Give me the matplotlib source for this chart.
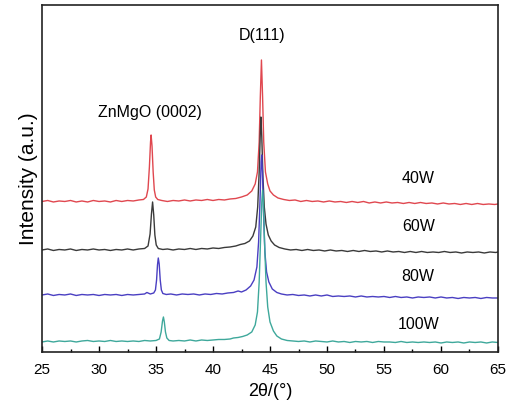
import matplotlib
matplotlib.use("Agg")
import matplotlib.pyplot as plt
from matplotlib.ticker import MultipleLocator

plt.rcParams['font.family'] = ['Liberation Sans', 'DejaVu Sans']

# ---------------- data (2theta in degrees, intensity in a.u., offset stacked) ----------------
x_40W = [25.0, 25.5, 26.0, 26.5, 27.0, 27.5, 28.0, 28.5, 29.0, 29.5, 30.0, 30.5, 31.0, 31.5, 32.0, 32.5,
         33.0, 33.5, 33.9, 34.15, 34.3, 34.42, 34.52, 34.57, 34.65, 34.75, 34.85, 34.97, 35.15, 35.5,
         36.0, 36.5, 37.0, 37.5, 38.0, 38.5, 39.0, 39.5, 40.0, 40.5, 41.0, 41.5, 42.0, 42.5, 43.0, 43.4,
         43.7, 43.9, 44.05, 44.15, 44.25, 44.35, 44.45, 44.6, 44.8, 45.0, 45.3, 45.7, 46.2, 46.7, 47.2,
         47.7, 48.2, 48.7, 49.2, 49.7, 50.2, 50.7, 51.2, 51.7, 52.2, 52.7, 53.2, 53.7, 54.2, 54.7, 55.2,
         55.7, 56.2, 56.7, 57.2, 57.7, 58.2, 58.7, 59.2, 59.7, 60.2, 60.7, 61.2, 61.7, 62.2, 62.7, 63.2,
         63.7, 64.2, 64.7, 65.0]
y_40W = [150.5, 151.5, 150.0, 151.0, 150.5, 151.5, 150.0, 151.0, 150.0, 151.5, 150.5, 151.0, 150.0, 151.5,
         150.5, 151.5, 151.0, 152.0, 152.5, 155, 163, 185, 210, 217, 206, 180, 162, 155, 152.5, 151.5,
         150.5, 151.5, 151.0, 152.0, 151.0, 152.0, 151.5, 152.5, 151.5, 152.5, 152.0, 153.0, 153.5, 155.0,
         157.0, 161, 168, 180, 210, 255, 292, 255, 210, 180, 168, 161, 157, 154, 152.5, 151.5, 152.0,
         150.5, 151.5, 150.5, 151.0, 150.0, 151.0, 150.0, 150.5, 149.5, 150.5, 149.5, 150.5, 149.0, 150.0,
         149.0, 150.0, 149.0, 149.5, 148.5, 149.5, 148.5, 149.5, 148.5, 149.0, 148.0, 149.0, 148.0, 148.5,
         147.5, 148.5, 147.5, 148.5, 147.5, 148.0, 147.5, 148.0]

x_60W = [25.0, 25.5, 26.0, 26.5, 27.0, 27.5, 28.0, 28.5, 29.0, 29.5, 30.0, 30.5, 31.0, 31.5, 32.0, 32.5,
         33.0, 33.5, 34.0, 34.3, 34.48, 34.6, 34.7, 34.8, 34.9, 35.02, 35.2, 35.6, 36.0, 36.5, 37.0, 37.5,
         38.0, 38.5, 39.0, 39.5, 40.0, 40.5, 41.0, 41.5, 42.0, 42.4, 42.8, 43.2, 43.5, 43.75, 43.92, 44.05,
         44.15, 44.2, 44.28, 44.38, 44.5, 44.65, 44.85, 45.1, 45.4, 45.8, 46.3, 46.8, 47.3, 47.8, 48.3,
         48.8, 49.3, 49.8, 50.3, 50.8, 51.3, 51.8, 52.3, 52.8, 53.3, 53.8, 54.3, 54.8, 55.3, 55.8, 56.3,
         56.8, 57.3, 57.8, 58.3, 58.8, 59.3, 59.8, 60.3, 60.8, 61.3, 61.8, 62.3, 62.8, 63.3, 63.8, 64.3,
         64.8, 65.0]
y_60W = [102, 103, 101.5, 102.5, 102, 103, 101.5, 102.5, 102, 103, 102, 102.5, 101.5, 102.5, 102, 103,
         102, 103, 103.5, 106, 118, 138, 150, 137, 117, 107, 103.5, 102.5, 103, 102, 103, 102.5,
         103.5, 102.5, 103.5, 103, 104, 103.5, 104.5, 105, 106, 107.5, 108.5, 111, 116, 125, 145, 180,
         220, 235, 215, 175, 145, 128, 117, 111, 107, 104.5, 103, 102, 102.5, 101.5, 102.5,
         101.5, 102, 101, 102, 101, 101.5, 100.5, 101.5, 100.5, 101.5, 100.5, 101, 100, 101, 100, 100.5,
         99.5, 100.5, 99.5, 100.5, 99.5, 100, 99.5, 100.5, 99.5, 100, 99, 100, 99.5, 100, 99, 100,
         99.5, 100]

x_80W = [25.0, 25.5, 26.0, 26.5, 27.0, 27.5, 28.0, 28.5, 29.0, 29.5, 30.0, 30.5, 31.0, 31.5, 32.0, 32.5,
         33.0, 33.5, 34.0, 34.2, 34.5, 34.8, 34.95, 35.05, 35.13, 35.2, 35.28, 35.37, 35.47, 35.6, 35.9,
         36.3, 36.8, 37.3, 37.8, 38.3, 38.8, 39.3, 39.8, 40.3, 40.8, 41.3, 41.8, 42.2, 42.5, 42.9, 43.3,
         43.6, 43.85, 44.0, 44.12, 44.22, 44.27, 44.34, 44.43, 44.55, 44.7, 44.9, 45.2, 45.6, 46.0, 46.5,
         47.0, 47.5, 48.0, 48.5, 49.0, 49.5, 50.0, 50.5, 51.0, 51.5, 52.0, 52.5, 53.0, 53.5, 54.0, 54.5,
         55.0, 55.5, 56.0, 56.5, 57.0, 57.5, 58.0, 58.5, 59.0, 59.5, 60.0, 60.5, 61.0, 61.5, 62.0, 62.5,
         63.0, 63.5, 64.0, 64.5, 65.0]
y_80W = [57, 58, 56.5, 57.5, 57, 58, 56.5, 57.5, 57, 57.5, 56.5, 57.5, 57, 57.5, 56.5, 57.5,
         57, 57.5, 58, 59.5, 58, 59, 62, 72, 87, 94, 88, 72, 62, 58.5, 57.5,
         58, 57, 58, 57.5, 58, 57, 58, 57.5, 58.5, 58, 59, 59.5, 61, 60, 62, 66,
         72, 85, 110, 150, 190, 197, 180, 140, 100, 80, 70, 63, 59.5, 58, 57,
         57.5, 56.5, 57, 56, 57, 56, 57, 55.5, 56, 55.5, 56, 55, 56, 55, 55.5, 55,
         55.5, 54.5, 55.5, 54.5, 55, 54, 55, 54.5, 55, 54, 55, 54, 54.5, 53.5, 54.5, 54,
         54.5, 53.5, 54.5, 54, 54]

x_100W = [25.0, 25.5, 26.0, 26.5, 27.0, 27.5, 28.0, 28.5, 29.0, 29.5, 30.0, 30.5, 31.0, 31.5, 32.0, 32.5,
          33.0, 33.5, 34.0, 34.5, 35.0, 35.3, 35.45, 35.57, 35.65, 35.73, 35.83, 35.95, 36.15, 36.5, 37.0,
          37.5, 38.0, 38.5, 39.0, 39.5, 40.0, 40.5, 41.0, 41.5, 41.8, 42.2, 42.6, 43.0, 43.4, 43.7, 43.9,
          44.05, 44.18, 44.28, 44.35, 44.42, 44.52, 44.65, 44.8, 45.0, 45.3, 45.6, 46.0, 46.5, 47.0, 47.5,
          48.0, 48.5, 49.0, 49.5, 50.0, 50.5, 51.0, 51.5, 52.0, 52.5, 53.0, 53.5, 54.0, 54.5, 55.0, 55.5,
          56.0, 56.5, 57.0, 57.5, 58.0, 58.5, 59.0, 59.5, 60.0, 60.5, 61.0, 61.5, 62.0, 62.5, 63.0, 63.5,
          64.0, 64.5, 65.0]
y_100W = [10, 11, 10, 11, 10.5, 11, 10, 11, 11.5, 10.5, 11, 10.5, 11.5, 10.5, 11, 10.5,
          11, 10.5, 11.5, 11, 11.5, 13, 20, 31, 35, 30, 20, 14, 11.5, 11, 11.5,
          11, 12, 11, 12, 11.5, 12, 12.5, 12.5, 13, 14, 14.5, 15.5, 17, 20, 27, 40,
          70, 115, 150, 162, 150, 110, 70, 45, 30, 21, 16, 13, 11.5, 11, 10.5,
          11, 10, 11, 10.5, 10, 11, 10, 10.5, 9.5, 10.5, 10, 10.5, 9.5, 10.5, 10, 10,
          9.5, 10.5, 9.5, 10, 9.5, 10, 9.5, 10, 9, 10, 9.5, 10, 9, 10, 9.5, 10,
          9, 10, 9.5]

series_labels = ["40W", "60W", "80W", "100W"]
label_y = [173, 125, 75, 27]
colors = ["#e0474f", "#3a3a3a", "#4a3fc2", "#3ea89b"]

# ---------------- figure ----------------
fig = plt.figure(figsize=(5.08, 4.05), dpi=100)
ax = fig.add_axes([0.0827, 0.1309, 0.8976, 0.8568])

for xs, ys, c in zip([x_40W, x_60W, x_80W, x_100W], [y_40W, y_60W, y_80W, y_100W], colors):
    ax.plot(xs, ys, color=c, lw=1.0)

for lab, ly in zip(series_labels, label_y):
    ax.text(58.0, ly, lab, ha='center', va='center', fontsize=11.5)

ax.text(44.27, 316, "D(111)", ha='center', va='center', fontsize=11.5)
ax.text(34.46, 239, "ZnMgO (0002)", ha='center', va='center', fontsize=11.5)

ax.set_xlim(25, 65)
ax.set_ylim(0, 347)
ax.xaxis.set_major_locator(MultipleLocator(5))
ax.xaxis.set_minor_locator(MultipleLocator(2.5))
ax.tick_params(axis='x', which='major', direction='in', length=4, width=1, labelsize=11, pad=8)
ax.tick_params(axis='x', which='minor', direction='in', length=2.5, width=1)
ax.set_yticks([])
for s in ax.spines.values():
    s.set_linewidth(1.2)
    s.set_color('#222222')

ax.set_xlabel("2θ/(°)", fontsize=13, labelpad=4)
ax.set_ylabel("Intensity (a.u.)", fontsize=15, labelpad=3)

fig.savefig("out.png", dpi=100)
